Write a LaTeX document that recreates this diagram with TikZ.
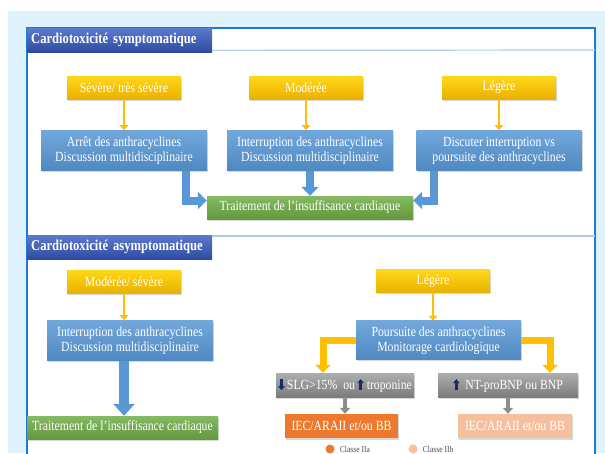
\documentclass[tikz,border=0pt]{standalone}
\usepackage{fontspec}
\setmainfont{Liberation Serif}[FakeStretch=0.84]
\usetikzlibrary{arrows.meta,positioning,shadows}
\definecolor{panelblue}{RGB}{222,242,251}
\definecolor{frameblue}{RGB}{30,122,206}
\definecolor{rimblue}{RGB}{170,204,234}
\definecolor{titleblue}{RGB}{52,88,190}
\definecolor{gold}{RGB}{255,192,0}
\definecolor{boxblue}{RGB}{88,152,214}
\definecolor{okgreen}{RGB}{112,173,71}
\definecolor{midgray}{RGB}{140,140,140}
\definecolor{orangeA}{RGB}{237,121,47}
\definecolor{orangeB}{RGB}{245,192,160}
\definecolor{navy}{RGB}{22,44,100}

\tikzset{navyarr/.style={navy,line width=2.6pt,-{Triangle[width=6.5pt,length=4pt]}}}
\newcommand{\uparr}{\tikz[baseline=0pt]\draw[navyarr](0,-1pt)--(0,10pt);}
\newcommand{\dnarr}{\tikz[baseline=0pt]\draw[navyarr](0,10pt)--(0,-1pt);}

\begin{document}
\begin{tikzpicture}[
    x=1pt,y=-1pt,
    every node/.style={font=\fontsize{14}{15}\selectfont,text=white},
    base/.style={rectangle,inner sep=1pt,align=center,
                 drop shadow={opacity=0.3,shadow xshift=1pt,shadow yshift=-1.5pt}},
    hdr/.style={rectangle,anchor=north west,inner sep=4pt,text width=177pt,
                minimum height=24pt,align=left,font=\bfseries\fontsize{15}{16}\selectfont,
                top color=titleblue!80!white,bottom color=titleblue!85!black},
    grade/.style={base,minimum width=114pt,minimum height=23pt,
                  top color=gold!70!yellow!90!white,bottom color=gold!92!black},
    action/.style={base,minimum width=166pt,minimum height=40pt,
                   top color=boxblue!85!white,bottom color=boxblue!90!black},
    treat/.style={base,minimum height=23pt,
                  top color=okgreen!85!white,bottom color=okgreen!88!black},
    marker/.style={base,minimum height=24pt,
                   top color=midgray!70!white,bottom color=midgray!88!black},
    drug/.style={base,minimum width=114pt,minimum height=24pt},
    legdot/.style={circle,inner sep=0pt,minimum size=9pt},
    legtext/.style={text=black!70,font=\fontsize{9}{10}\selectfont,inner sep=1pt},
    sepline/.style={draw=rimblue,line width=1.2pt},
    thinarr/.style={draw=gold,line width=2.8pt,-{Triangle[width=8.5pt,length=5pt]}},
    fatarr/.style={draw=boxblue,line width=8pt,-{Triangle[width=17pt,length=9pt]}},
    goldarr/.style={draw=gold,line width=7pt,-{Triangle[width=15pt,length=8pt]}},
    grayarr/.style={draw=midgray,line width=4pt,-{Triangle[width=10pt,length=6pt]}}
  ]
    \useasboundingbox (0,0) rectangle (605,453);
    % background and frame
    \fill[panelblue] (8,11) rectangle (605,453);
    \filldraw[fill=white,draw=frameblue,line width=1.2pt] (27,28) rectangle (595,470);

    % symptomatic
    \node[hdr] (hdr1) at (27,28) {Cardiotoxicité symptomatique};
    \coordinate (rim1) at (595,50);
    \draw[sepline] ([yshift=2pt]hdr1.south east) -- (rim1);

    \node[grade] (sev) at (124,87.5) {Sévère/ très sévère};
    \node[grade] (mod) at (306,87.5) {Modérée};
    \node[grade] (leg) at (499,87.5) {Légère};
    \node[action,below=31pt of sev] (arret) {Arrêt des anthracyclines\\Discussion multidisciplinaire};
    \node[action,below=31pt of mod,xshift=4pt] (interr1) {Interruption des anthracyclines\\Discussion multidisciplinaire};
    \node[action,below=31pt of leg,minimum width=165pt] (disc) {Discuter interruption vs\\poursuite des anthracyclines};
    \node[treat,minimum width=206pt] (trait1) at (310,207.5) {Traitement de l'insuffisance cardiaque};

    \draw[thinarr] (sev.south) -- (sev.south |- arret.north);
    \draw[thinarr] (mod.south) -- (mod.south |- interr1.north);
    \draw[thinarr] (leg.south) -- (leg.south |- disc.north);
    \draw[fatarr] ([xshift=62pt]arret.south) |- ([yshift=7pt]trait1.west);
    \draw[fatarr] (interr1.south) -- (interr1.south |- trait1.north);
    \draw[fatarr] ([xshift=-65pt]disc.south) |- ([yshift=7pt]trait1.east);

    % asymptomatic
    \node[hdr] (hdr2) at (27,235) {Cardiotoxicité asymptomatique};
    \coordinate (rim2) at (595,236);
    \draw[sepline] ([yshift=-1pt]hdr2.north east) -- (rim2);

    \node[grade] (modsev) at (124,281.5) {Modérée/ sévère};
    \node[action,below=27pt of modsev,xshift=6pt] (interr2) {Interruption des anthracyclines\\Discussion multidisciplinaire};
    \node[treat,minimum width=191pt] (trait2) at (122.5,427.5) {Traitement de l'insuffisance cardiaque};
    \draw[thinarr] (modsev.south) -- (modsev.south |- interr2.north);
    \draw[draw=boxblue,line width=10pt,-{Triangle[width=21pt,length=12pt]}]
      (modsev.south |- interr2.south) -- (modsev.south |- trait2.north);

    \node[grade] (leg2) at (433,281) {Légère};
    \node[action,below=28pt of leg2,xshift=5.5pt,minimum width=165pt,minimum height=39pt] (pours)
      {Poursuite des anthracyclines\\Monitorage cardiologique};
    \node[marker,minimum width=138pt] (slg) at (345,385) {\dnarr\,SLG>15\%\ \ ou\,\uparr\ troponine};
    \node[marker,minimum width=140pt] (bnp) at (508,385) {\uparr\ \ NT-proBNP ou BNP};
    \node[drug,minimum width=113pt,fill=orangeA] (iecA) at (341.5,426) {IEC/ARAII et/ou BB};
    \node[drug,fill=orangeB] (iecB) at (515,426) {IEC/ARAII et/ou BB};

    \draw[thinarr] (leg2.south) -- (leg2.south |- pours.north);
    \draw[goldarr] (pours.west) -| ([xshift=-22pt]slg.north);
    \draw[goldarr] (pours.east) -| ([xshift=42pt]bnp.north);
    \draw[grayarr] (slg.south) -- (slg.south |- iecA.north);
    \draw[grayarr] (bnp.south) -- (bnp.south |- iecB.north);

    % legend
    \node[legdot,fill=orangeA] (dotA) at (330,449) {};
    \node[legtext,right=4pt of dotA] (clsA) {Classe IIa};
    \node[legdot,fill=orangeB] (dotB) at (413,449) {};
    \node[legtext,right=4pt of dotB] (clsB) {Classe IIb};
\end{tikzpicture}
\end{document}
